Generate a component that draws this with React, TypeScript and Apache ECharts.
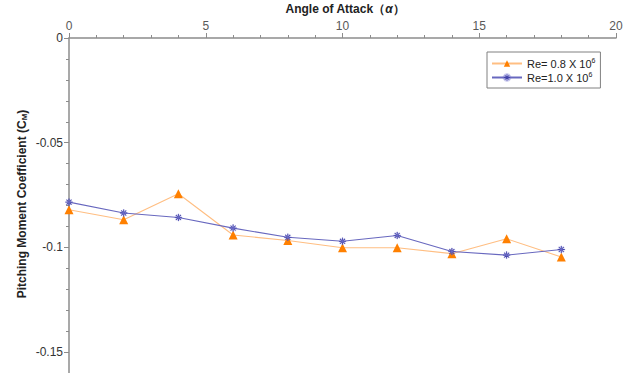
import React, { useEffect, useRef } from "react";
import * as echarts from "echarts";

const angles = [0, 2, 4, 6, 8, 10, 12, 14, 16, 18];
const re08 = [-0.082, -0.0868, -0.0744, -0.0941, -0.0967, -0.1002, -0.1002, -0.103, -0.0959, -0.1046];
const re10 = [-0.0784, -0.0836, -0.0857, -0.0908, -0.0952, -0.0971, -0.0943, -0.102, -0.1037, -0.101];
const seriesNames = ["Re= 0.8 X 10", "Re=1.0 X 10"];
const yTickValues = [0, -0.05, -0.1, -0.15];
const xTitle = "Angle of Attack（{it|α}）";
const yTitle = "Pitching Moment Coefficient (C{sub|M})";

const STAR =
  "path://M-0.6,-5L0.6,-5L0.6,5L-0.6,5Z M-5,-0.6L5,-0.6L5,0.6L-5,0.6Z M-3.9,-3.1L-3.1,-3.9L3.9,3.1L3.1,3.9Z M3.1,-3.9L3.9,-3.1L-3.1,3.9L-3.9,3.1Z";

export default function App() {
  const ref = useRef<HTMLDivElement>(null);
  useEffect(() => {
    document.body.style.margin = "0";
    const chart = echarts.init(ref.current!, null, { renderer: "svg" });
    const font = "Liberation Sans";
    const axisGray = "#8c8c8c";
    chart.setOption({
      animation: false,
      backgroundColor: "#ffffff",
      textStyle: { fontFamily: font },
      grid: { left: 69, right: 10, top: 38, bottom: 0, containLabel: false, outerBoundsMode: "none" },
      legend: {
        orient: "vertical",
        left: 487,
        top: 52,
        borderColor: "#808080",
        borderWidth: 1,
        borderRadius: 0,
        padding: [5, 5, 5, 4],
        itemGap: 2,
        itemWidth: 30,
        itemHeight: 8,
        formatter: (n: string) => n + "{sup|6}",
        textStyle: {
          fontFamily: font,
          fontSize: 11,
          color: "#222",
          rich: {
            sup: { fontSize: 7, fontFamily: font, color: "#222", verticalAlign: "top", padding: [0, 0, 6, 0] },
          },
        },
        data: seriesNames,
      },
      xAxis: {
        type: "value",
        position: "top",
        min: 0,
        max: 20,
        interval: 5,
        axisLine: { show: true, lineStyle: { color: axisGray, width: 1.5 } },
        axisTick: { show: true, inside: false, length: 5, lineStyle: { color: axisGray } },
        minorTick: { show: true, splitNumber: 5, length: 3, lineStyle: { color: axisGray } },
        splitLine: { show: false },
        axisLabel: { color: "#595959", fontSize: 12, fontFamily: font, margin: 6 },
      },
      yAxis: [
        {
          type: "value",
          min: -0.16,
          max: 0,
          axisLine: { show: true, onZero: false, lineStyle: { color: axisGray, width: 1.5 } },
          axisTick: { show: true, inside: false, length: 5, customValues: yTickValues, lineStyle: { color: axisGray } },
          splitLine: { show: false },
          axisLabel: {
            customValues: yTickValues,
            formatter: (v: number) => String(Math.round(v * 100) / 100),
            color: "#333",
            fontSize: 12,
            fontFamily: font,
            margin: 6,
          },
        },
        {
          type: "value",
          position: "left",
          min: -0.16,
          max: 0,
          interval: 0.01,
          axisLine: { show: false },
          axisTick: { show: true, inside: false, length: 3, lineStyle: { color: axisGray } },
          splitLine: { show: false },
          axisLabel: { show: false },
        },
      ],
      graphic: [
        {
          type: "text",
          x: 345,
          y: 9,
          style: {
            text: xTitle,
            fontFamily: font,
            fontSize: 12,
            fontWeight: "bold",
            fill: "#222",
            align: "center",
            verticalAlign: "middle",
            rich: {
              it: { fontStyle: "italic", fontWeight: "bold", fontSize: 12, fontFamily: font, fill: "#222" },
            },
          },
        },
        {
          type: "text",
          x: 22,
          y: 204,
          rotation: Math.PI / 2,
          style: {
            text: yTitle,
            fontFamily: font,
            fontSize: 12,
            fontWeight: "bold",
            fill: "#222",
            align: "center",
            verticalAlign: "middle",
            rich: {
              sub: { fontSize: 8, fontWeight: "bold", fontFamily: font, fill: "#222", padding: [5, 0, 0, 0] },
            },
          },
        },
      ],
      series: [
        {
          name: seriesNames[0],
          type: "line",
          data: angles.map((a, i) => [a, re08[i]]),
          symbol: "triangle",
          symbolSize: 9,
          lineStyle: { color: "#ffbe82", width: 1.1 },
          itemStyle: { color: "#ff8000" },
        },
        {
          name: seriesNames[1],
          type: "line",
          data: angles.map((a, i) => [a, re10[i]]),
          symbol: STAR,
          symbolSize: 7,
          lineStyle: { color: "#6868bf", width: 1.1 },
          itemStyle: { color: "#20208f", borderColor: "rgba(120,120,210,0.4)", borderWidth: 1 },
        },
      ],
    });
    return () => chart.dispose();
  }, []);
  return <div ref={ref} style={{ position: "fixed", left: 0, top: 0, width: 626, height: 373 }} />;
}
